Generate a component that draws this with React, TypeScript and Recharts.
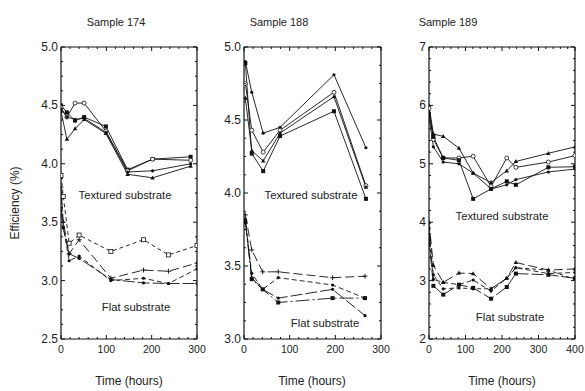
import React from 'react';
import { LineChart, Line, XAxis, YAxis } from 'recharts';

// Sample 174
const t174Tex = [0, 13, 31, 51, 99, 147, 202, 286];
const s174TexA = [4.5, 4.44, 4.37, 4.4, 4.32, 3.95, 4.04, 4.06];
const s174TexB = [4.48, 4.4, 4.52, 4.52, 4.28, 3.94, 4.04, 4.03];
const s174TexC = [4.45, 4.21, 4.3, 4.38, 4.26, 3.91, 3.88, 3.98];
const s174TexD = [4.47, 4.4, 4.38, 4.39, 4.27, 3.93, 3.94, 4.0];
const t174Flat = [0, 5, 18, 40, 110, 182, 237, 300];
const s174FlatA = [3.9, 3.72, 3.32, 3.39, 3.25, 3.35, 3.22, 3.3];
const s174FlatB = [3.8, 3.5, 3.23, 3.35, 3.02, 3.09, 3.08, 3.15];
const s174FlatC = [3.7, 3.46, 3.17, 3.21, 3.0, 3.02, 2.975, 3.1];
const s174FlatD = [3.6, 3.45, 3.23, 3.19, 3.01, 2.98, 2.975, 2.975];

// Sample 188
const t188Tex = [3, 17, 42, 79, 197, 267];
const s188TexA = [4.9, 4.69, 4.41, 4.45, 4.81, 4.31];
const s188TexB = [4.75, 4.43, 4.28, 4.43, 4.69, 4.05];
const s188TexC = [4.65, 4.29, 4.22, 4.41, 4.66, 4.04];
const s188TexD = [4.89, 4.27, 4.15, 4.39, 4.56, 3.96];
const t188Flat = [3, 17, 41, 75, 194, 265];
const s188FlatA = [3.85, 3.61, 3.46, 3.46, 3.42, 3.43];
const s188FlatB = [3.8, 3.45, 3.34, 3.42, 3.37, 3.28];
const s188FlatC = [3.82, 3.42, 3.34, 3.28, 3.34, 3.16];
const s188FlatD = [3.8, 3.41, 3.34, 3.25, 3.28, 3.28];

// Sample 189
const t189 = [0, 12, 39, 82, 121, 170, 213, 238, 327, 400];
const s189TexA = [6.0, 5.51, 5.47, 5.27, 4.84, 4.68, 4.88, 5.04, 5.18, 5.29];
const s189TexB = [5.95, 5.42, 5.1, 5.1, 5.13, 4.61, 5.1, 4.94, 5.03, 5.14];
const s189TexC = [5.85, 5.46, 5.1, 5.06, 4.4, 4.57, 4.7, 4.64, 4.94, 4.95];
const s189TexD = [5.8, 5.29, 5.03, 5.0, 4.84, 4.57, 4.64, 4.73, 4.86, 4.91];
const s189FlatA = [4.0, 3.26, 2.97, 3.13, 3.12, 2.86, 3.04, 3.31, 3.18, 3.2];
const s189FlatB = [3.8, 3.02, 2.97, 2.93, 3.01, 2.82, 3.04, 3.22, 3.12, 3.14];
const s189FlatC = [3.7, 2.91, 2.76, 2.93, 2.875, 2.69, 2.89, 3.12, 3.1, 3.04];
const s189FlatD = [3.9, 3.1, 2.86, 2.875, 2.86, 2.86, 3.04, 3.22, 3.18, 3.02];

const FONT = '"Liberation Sans", Arial, sans-serif';
const INK = '#111';
const TEXT = '#222';

type Shape = 'square' | 'openSquare' | 'openCircle' | 'dot' | 'triangle' | 'plus';

const marker = (shape: Shape) => (props: any) => {
  const { cx, cy, index } = props;
  if (cx == null || cy == null) return <g key={index} />;
  switch (shape) {
    case 'square':
      return <rect key={index} x={cx - 2} y={cy - 2} width={4} height={4} fill={INK} />;
    case 'openSquare':
      return <rect key={index} x={cx - 2} y={cy - 2} width={4} height={4} fill="#fff" stroke={INK} strokeWidth={0.8} />;
    case 'openCircle':
      return <circle key={index} cx={cx} cy={cy} r={2} fill="#fff" stroke={INK} strokeWidth={0.8} />;
    case 'triangle':
      return <path key={index} d={`M${cx},${cy - 2.4}L${cx + 2.2},${cy + 1.6}L${cx - 2.2},${cy + 1.6}Z`} fill={INK} />;
    case 'plus':
      return <path key={index} d={`M${cx - 2.5},${cy}H${cx + 2.5}M${cx},${cy - 2.5}V${cy + 2.5}`} stroke={INK} strokeWidth={0.9} />;
    default:
      return <circle key={index} cx={cx} cy={cy} r={1.6} fill={INK} />;
  }
};

interface Series {
  times: number[];
  values: number[];
  shape: Shape;
  dash?: string;
}

const toRows = (s: Series) => s.times.map((x, i) => ({ x, y: s.values[i] }));

const range = (lo: number, hi: number, step: number) => {
  const out: number[] = [];
  for (let v = lo; v <= hi + 1e-9; v += step) out.push(Math.round(v * 1000) / 1000);
  return out;
};

const isMajor = (v: number, step: number) => Math.abs(v / step - Math.round(v / step)) < 1e-6;

interface PanelProps {
  left: number;
  leftAxisW: number;
  plotW: number;
  xMax: number;
  yDomain: [number, number];
  yMinor: number;
  yMajor: number;
  yDigits: number;
  series: Series[];
}

function Panel({ left, leftAxisW, plotW, xMax, yDomain, yMinor, yMajor, yDigits, series }: PanelProps) {
  const xTicks = range(0, xMax, 20);
  const yTicks = range(yDomain[0], yDomain[1], yMinor);
  const rightW = 12;

  const bottomTick = (p: any) => {
    const v = p.payload.value;
    const major = isMajor(v, 100);
    return (
      <g>
        <line x1={p.x} x2={p.x} y1={p.y} y2={p.y - (major ? 4 : 2)} stroke={INK} />
        {major && (
          <text x={p.x} y={p.y + 14} textAnchor="middle" fontSize={10.5} fontFamily={FONT} fill={TEXT}>
            {v}
          </text>
        )}
      </g>
    );
  };
  const topTick = (p: any) => {
    const major = isMajor(p.payload.value, 100);
    return <line x1={p.x} x2={p.x} y1={p.y} y2={p.y + (major ? 4 : 2)} stroke={INK} />;
  };
  const leftTick = (p: any) => {
    const v = p.payload.value;
    const major = isMajor(v, yMajor);
    return (
      <g>
        <line x1={p.x} x2={p.x + (major ? 4 : 2)} y1={p.y} y2={p.y} stroke={INK} />
        {major && (
          <text x={p.x - 3} y={p.y + 4} textAnchor="end" fontSize={12} fontFamily={FONT} fill={TEXT}>
            {v.toFixed(yDigits)}
          </text>
        )}
      </g>
    );
  };
  const rightTick = (p: any) => {
    const major = isMajor(p.payload.value, yMajor);
    return <line x1={p.x} x2={p.x - (major ? 4 : 2)} y1={p.y} y2={p.y} stroke={INK} />;
  };

  const axisCommon = {
    type: 'number' as const,
    interval: 0 as const,
    tickSize: 0,
    tickMargin: 0,
    allowDataOverflow: true,
    axisLine: { stroke: INK, strokeWidth: 1.2 },
  };

  return (
    <div style={{ position: 'absolute', left, top: 0 }}>
      <LineChart width={leftAxisW + plotW + rightW} height={391} margin={{ top: 0, right: 0, bottom: 0, left: 0 }}>
        <XAxis xAxisId="b" dataKey="x" domain={[0, xMax]} ticks={xTicks} height={52} tick={bottomTick} {...axisCommon} />
        <XAxis xAxisId="t" orientation="top" dataKey="x" domain={[0, xMax]} ticks={xTicks} height={47} tick={topTick} {...axisCommon} />
        <YAxis yAxisId="l" domain={yDomain} ticks={yTicks} width={leftAxisW} tick={leftTick} {...axisCommon} />
        <YAxis yAxisId="r" orientation="right" domain={yDomain} ticks={yTicks} width={rightW} tick={rightTick} {...axisCommon} />
        {series.map((s, i) => (
          <Line
            key={i}
            xAxisId="b"
            yAxisId="l"
            data={toRows(s)}
            dataKey="y"
            stroke={INK}
            strokeWidth={0.9}
            strokeDasharray={s.dash}
            dot={marker(s.shape)}
            activeDot={false}
            isAnimationActive={false}
          />
        ))}
        <Line
          xAxisId="t"
          yAxisId="r"
          data={toRows(series[0])}
          dataKey="y"
          stroke="none"
          dot={false}
          activeDot={false}
          isAnimationActive={false}
        />
      </LineChart>
    </div>
  );
}

const Txt = ({ x, y, size = 11, children, rotate }: { x: number; y: number; size?: number; children: React.ReactNode; rotate?: boolean }) => (
  <text
    x={x}
    y={y}
    textAnchor="middle"
    dominantBaseline="central"
    fontFamily={FONT}
    fontSize={size}
    fill={TEXT}
    transform={rotate ? `rotate(-90 ${x} ${y})` : undefined}
  >
    {children}
  </text>
);

const panel174: Series[] = [
  { times: t174Tex, values: s174TexA, shape: 'square' },
  { times: t174Tex, values: s174TexB, shape: 'openCircle' },
  { times: t174Tex, values: s174TexC, shape: 'triangle' },
  { times: t174Tex, values: s174TexD, shape: 'dot' },
  { times: t174Flat, values: s174FlatA, shape: 'openSquare', dash: '4 3' },
  { times: t174Flat, values: s174FlatB, shape: 'plus', dash: '9 4' },
  { times: t174Flat, values: s174FlatC, shape: 'dot', dash: '5 3' },
  { times: t174Flat, values: s174FlatD, shape: 'dot', dash: '12 3' },
];

const panel188: Series[] = [
  { times: t188Tex, values: s188TexA, shape: 'dot' },
  { times: t188Tex, values: s188TexB, shape: 'openCircle' },
  { times: t188Tex, values: s188TexC, shape: 'triangle' },
  { times: t188Tex, values: s188TexD, shape: 'square' },
  { times: t188Flat, values: s188FlatA, shape: 'plus', dash: '9 4' },
  { times: t188Flat, values: s188FlatB, shape: 'dot', dash: '5 3' },
  { times: t188Flat, values: s188FlatC, shape: 'dot', dash: '12 3' },
  { times: t188Flat, values: s188FlatD, shape: 'square', dash: '14 3 2 3' },
];

const panel189: Series[] = [
  { times: t189, values: s189TexA, shape: 'triangle' },
  { times: t189, values: s189TexB, shape: 'openCircle' },
  { times: t189, values: s189TexC, shape: 'square' },
  { times: t189, values: s189TexD, shape: 'dot' },
  { times: t189, values: s189FlatA, shape: 'triangle', dash: '9 4' },
  { times: t189, values: s189FlatB, shape: 'dot', dash: '5 3' },
  { times: t189, values: s189FlatC, shape: 'square', dash: '12 3' },
  { times: t189, values: s189FlatD, shape: 'dot', dash: '4 3' },
];

export default function App() {
  return (
    <div style={{ position: 'absolute', left: 0, top: 0, width: 585, height: 391, background: '#fff', overflow: 'hidden' }}>
      <Panel left={0} leftAxisW={61} plotW={136} xMax={300} yDomain={[2.5, 5]} yMinor={0.125} yMajor={0.5} yDigits={1} series={panel174} />
      <Panel left={205} leftAxisW={39} plotW={137} xMax={300} yDomain={[3, 5]} yMinor={0.125} yMajor={0.5} yDigits={1} series={panel188} />
      <Panel left={390} leftAxisW={39} plotW={146} xMax={400} yDomain={[2, 7]} yMinor={0.2} yMajor={1} yDigits={0} series={panel189} />

      <svg width={585} height={391} style={{ position: 'absolute', left: 0, top: 0, pointerEvents: 'none' }}>
        <Txt x={116} y={22}>Sample 174</Txt>
        <Txt x={279} y={22}>Sample 188</Txt>
        <Txt x={448} y={22}>Sample 189</Txt>

        <Txt x={129} y={381} size={12}>Time (hours)</Txt>
        <Txt x={312} y={381} size={12}>Time (hours)</Txt>
        <Txt x={502} y={381} size={12}>Time (hours)</Txt>
        <Txt x={15} y={203} size={12} rotate>Efficiency (%)</Txt>

        <Txt x={125} y={195} size={11.3}>Textured substrate</Txt>
        <Txt x={136} y={307} size={11.3}>Flat substrate</Txt>
        <Txt x={311} y={195} size={11.3}>Textured substrate</Txt>
        <Txt x={325} y={323} size={11.3}>Flat substrate</Txt>
        <Txt x={502} y={216} size={11.3}>Textured substrate</Txt>
        <Txt x={510} y={317} size={11.3}>Flat substrate</Txt>
      </svg>
    </div>
  );
}
